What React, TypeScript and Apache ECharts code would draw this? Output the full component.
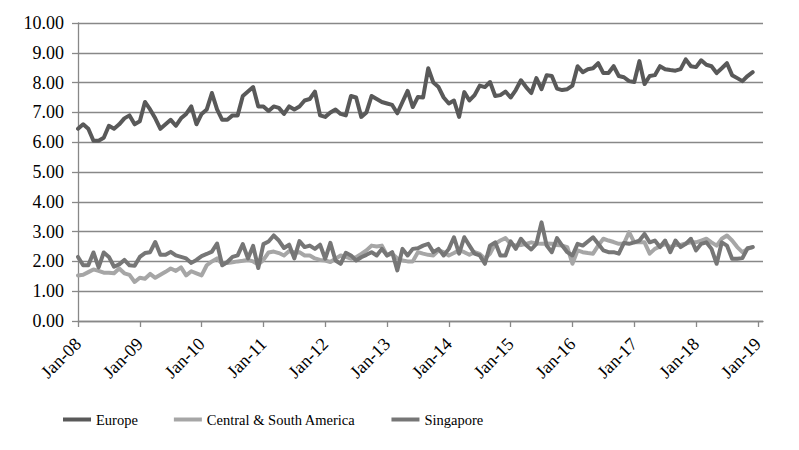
import React, { useEffect, useRef } from "react";
import * as echarts from "echarts";

const MONTHS = ["Jan", "Feb", "Mar", "Apr", "May", "Jun", "Jul", "Aug", "Sep", "Oct", "Nov", "Dec"];
const YEARS = ["08", "09", "10", "11", "12", "13", "14", "15", "16", "17", "18", "19"];
const SERIES_NAMES = ["Europe", "Central & South America", "Singapore"];

const europe = [
  6.45, 6.6, 6.45, 6.05, 6.05, 6.15, 6.55, 6.45, 6.6, 6.8, 6.9, 6.6,
  6.7, 7.35, 7.1, 6.8, 6.45, 6.6, 6.75, 6.55, 6.8, 6.95, 7.2, 6.6,
  6.95, 7.1, 7.65, 7.1, 6.75, 6.75, 6.9, 6.9, 7.55, 7.7, 7.85, 7.2,
  7.2, 7.05, 7.2, 7.15, 6.95, 7.2, 7.1, 7.2, 7.4, 7.45, 7.7, 6.9,
  6.85, 7.0, 7.1, 6.95, 6.9, 7.55, 7.5, 6.85, 7.0, 7.55, 7.45, 7.35,
  7.3, 7.25, 6.97, 7.35, 7.72, 7.18, 7.52, 7.5, 8.48, 8.0, 7.85, 7.5,
  7.3, 7.4, 6.85, 7.68, 7.4, 7.58, 7.9, 7.85, 8.02, 7.55, 7.58, 7.7,
  7.5, 7.75, 8.08, 7.85, 7.65, 8.15, 7.78, 8.25, 8.22, 7.8, 7.75, 7.78,
  7.9, 8.55, 8.35, 8.45, 8.48, 8.65, 8.32, 8.32, 8.55, 8.22, 8.18, 8.05,
  8.02, 8.72, 7.95, 8.22, 8.25, 8.55, 8.45, 8.42, 8.4, 8.45, 8.78, 8.55,
  8.52, 8.75, 8.6, 8.55, 8.32, 8.48, 8.65, 8.25, 8.15, 8.05, 8.22, 8.35,
];

const centralSouthAmerica = [
  1.53, 1.55, 1.64, 1.73, 1.68, 1.62, 1.62, 1.6, 1.76, 1.6, 1.55, 1.31,
  1.45, 1.42, 1.58, 1.45, 1.55, 1.65, 1.76, 1.68, 1.8, 1.53, 1.67, 1.6,
  1.53, 1.87, 2.0, 2.1, 1.92, 1.95, 1.97, 2.0, 2.02, 2.05, 2.0, 1.9,
  2.05, 2.3, 2.33, 2.28, 2.2, 2.35, 2.3, 2.31, 2.2, 2.2, 2.1, 2.05,
  2.03, 1.98, 2.09, 2.2, 2.15, 2.09, 2.14, 2.25, 2.37, 2.53, 2.5, 2.53,
  2.2, 2.26, 2.1, 2.03, 2.0, 2.0, 2.31, 2.26, 2.22, 2.2, 2.37, 2.31,
  2.2, 2.28, 2.37, 2.31, 2.22, 2.31, 2.25, 2.09, 2.26, 2.59, 2.7, 2.78,
  2.59, 2.53, 2.55, 2.59, 2.64, 2.6, 2.59, 2.6, 2.59, 2.55, 2.53, 2.48,
  1.92, 2.37, 2.31, 2.28, 2.26, 2.53, 2.76, 2.7, 2.65, 2.59, 2.6, 2.98,
  2.64, 2.64, 2.64, 2.26, 2.42, 2.5, 2.59, 2.48, 2.55, 2.55, 2.6, 2.64,
  2.64, 2.7, 2.76, 2.64, 2.53, 2.76, 2.87, 2.7, 2.48, 2.31, 2.42, 2.48,
];

const singapore = [
  2.15, 1.87, 1.87, 2.3, 1.8, 2.3, 2.15, 1.82, 1.9, 2.05, 1.87, 1.85,
  2.15, 2.28, 2.31, 2.65, 2.22, 2.22, 2.32, 2.2, 2.15, 2.1, 1.95, 2.05,
  2.18, 2.25, 2.33, 2.6, 1.87, 1.98, 2.15, 2.2, 2.58, 2.1, 2.52, 1.78,
  2.58, 2.67, 2.87, 2.7, 2.45, 2.56, 2.1, 2.68, 2.48, 2.53, 2.42, 2.56,
  2.09, 2.62, 2.03, 1.92, 2.29, 2.2, 2.03, 2.14, 2.22, 2.31, 2.2, 2.42,
  2.2, 2.31, 1.7, 2.42, 2.2, 2.42, 2.44, 2.53, 2.59, 2.31, 2.42, 2.2,
  2.42, 2.81, 2.26, 2.81, 2.53, 2.26, 2.2, 1.92, 2.53, 2.64, 2.2, 2.2,
  2.67, 2.42, 2.76, 2.55, 2.4, 2.59, 3.31, 2.53, 2.31, 2.78, 2.53, 2.31,
  2.2, 2.59, 2.53, 2.67, 2.81, 2.59, 2.37, 2.31, 2.31, 2.26, 2.62, 2.59,
  2.64, 2.7, 2.92, 2.64, 2.7, 2.48, 2.7, 2.31, 2.7, 2.48, 2.59, 2.76,
  2.37, 2.59, 2.64, 2.42, 1.92, 2.64, 2.53, 2.09, 2.09, 2.11, 2.44, 2.48,
];

const SERIES_DATA = [europe, centralSouthAmerica, singapore];
const SERIES_COLORS = ["#595959", "#a6a6a6", "#767676"];

// category labels: Jan-08 ... Feb-19 (axis runs slightly past Jan-19)
const categories: string[] = [];
YEARS.forEach((y) => MONTHS.forEach((m) => categories.push(`${m}-${y}`)));
const axisCategories = categories.slice(0, 134);

const FONT = "'Liberation Serif', 'Times New Roman', serif";

export default function App() {
  const ref = useRef<HTMLDivElement>(null);
  useEffect(() => {
    if (!ref.current) return;
    const chart = echarts.init(ref.current, undefined, { renderer: "svg" });
    const showEveryYear = (idx: number) => idx % 12 === 0;
    chart.setOption({
      animation: false,
      backgroundColor: "#ffffff",
      grid: { left: 78, right: 36, top: 23, bottom: 129, containLabel: false },
      legend: {
        left: 58,
        top: 407,
        itemGap: 36,
        itemWidth: 28,
        itemHeight: 4,
        icon: "rect",
        textStyle: { fontFamily: FONT, fontSize: 14.5, color: "#000" },
        data: SERIES_NAMES,
      },
      xAxis: {
        type: "category",
        boundaryGap: false,
        data: axisCategories,
        axisLine: { lineStyle: { color: "#888888", width: 1.3 } },
        axisTick: { show: true, interval: showEveryYear, length: 6, lineStyle: { color: "#888888", width: 1.3 } },
        axisLabel: {
          interval: showEveryYear,
          rotate: 45,
          margin: 20,
          fontFamily: FONT,
          fontSize: 18,
          color: "#000",
        },
        splitLine: { show: false },
      },
      yAxis: {
        type: "value",
        min: 0,
        max: 10,
        interval: 1,
        axisLine: { show: true, lineStyle: { color: "#888888", width: 1.3 } },
        axisTick: { show: true, length: 6, lineStyle: { color: "#888888", width: 1.3 } },
        axisLabel: {
          margin: 14,
          fontFamily: FONT,
          fontSize: 18,
          color: "#000",
          formatter: (v: number) => v.toFixed(2),
        },
        splitLine: { show: true, lineStyle: { color: "#888888", width: 1.3 } },
      },
      series: SERIES_NAMES.map((name, i) => ({
        name,
        type: "line",
        data: SERIES_DATA[i],
        symbol: "none",
        color: SERIES_COLORS[i],
        lineStyle: { color: SERIES_COLORS[i], width: 4, join: "round", cap: "round" },
      })),
    });
    return () => chart.dispose();
  }, []);
  return (
    <div
      ref={ref}
      style={{ position: "fixed", left: 0, top: 0, width: 799, height: 450, background: "#fff" }}
    />
  );
}
